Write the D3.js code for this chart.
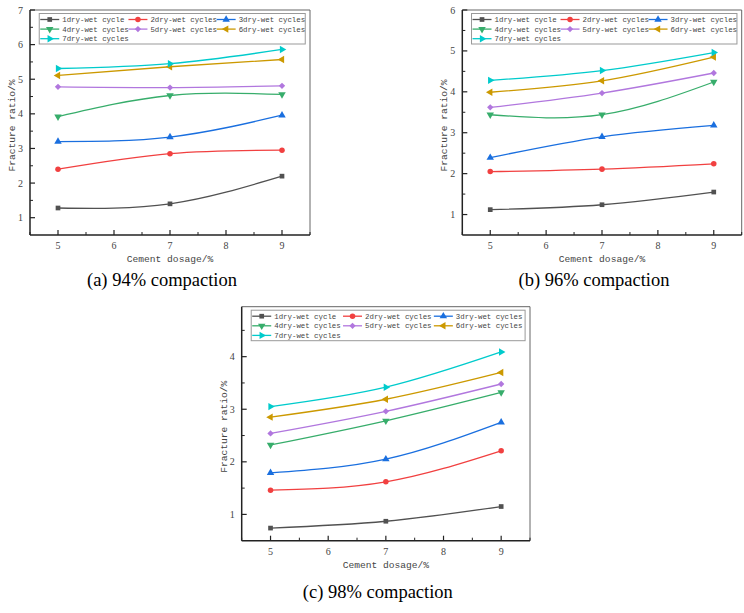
<!DOCTYPE html>
<html lang="en">
<head>
    <meta charset="UTF-8">
    <title>Fracture ratio vs cement dosage</title>
    <script src="https://d3js.org/d3.v7.min.js"></script>
    <style>
        body {
            margin: 0;
            padding: 0;
            background-color: #fff;
        }
        svg text {
            fill: #444;
        }
        .tick-label {
            font-family: "Liberation Serif", serif;
            font-size: 10px;
        }
        .axis-title {
            font-family: "Liberation Mono", monospace;
            font-size: 9.6px;
        }
        .legend-text {
            font-family: "Liberation Mono", monospace;
            font-size: 7.4px;
        }
        .caption {
            font-family: "Liberation Serif", "Times New Roman", serif;
            font-size: 18.5px;
            fill: #000 !important;
        }
    </style>
</head>
<body>
    <div id="chart"></div>
    <script>
        // dosage values on the x axis
        const dosages = [5, 7, 9];
        const seriesNames = ["1dry-wet cycle", "2dry-wet cycles", "3dry-wet cycles",
            "4dry-wet cycles", "5dry-wet cycles", "6dry-wet cycles", "7dry-wet cycles"];
        const seriesColors = ["#515151", "#F14040", "#1A6FDF", "#37AD6B", "#B177DE", "#CC9900", "#00CBCC"];

        // fracture ratio (%) per series
        const compaction94 = [
            [1.28, 1.40, 2.20],
            [2.40, 2.85, 2.95],
            [3.20, 3.33, 3.96],
            [3.92, 4.53, 4.56],
            [4.78, 4.76, 4.81],
            [5.11, 5.36, 5.57],
            [5.31, 5.45, 5.86]
        ];
        const compaction96 = [
            [1.12, 1.24, 1.55],
            [2.05, 2.11, 2.24],
            [2.39, 2.90, 3.18],
            [3.44, 3.44, 4.24],
            [3.62, 3.97, 4.46],
            [3.99, 4.27, 4.85],
            [4.28, 4.52, 4.96]
        ];
        const compaction98 = [
            [0.74, 0.87, 1.15],
            [1.46, 1.62, 2.21],
            [1.79, 2.05, 2.75],
            [2.32, 2.78, 3.32],
            [2.54, 2.96, 3.48],
            [2.85, 3.19, 3.70],
            [3.05, 3.42, 4.09]
        ];

        const xMajor = [5, 6, 7, 8, 9];
        const xMinor = [4.5, 5.5, 6.5, 7.5, 8.5, 9.5];

        // marker shape + rotation for each series (Origin defaults)
        const markers = [
            { type: d3.symbolSquare, rot: 0, size: 22 },
            { type: d3.symbolCircle, rot: 0, size: 24 },
            { type: d3.symbolTriangle, rot: 0, size: 24 },
            { type: d3.symbolTriangle, rot: 180, size: 24 },
            { type: d3.symbolSquare, rot: 45, size: 20 },
            { type: d3.symbolTriangle, rot: -90, size: 24 },
            { type: d3.symbolTriangle, rot: 90, size: 24 }
        ];

        const svg = d3.select("#chart")
            .append("svg")
            .attr("width", 744)
            .attr("height", 613);

        function drawPanel(opts) {
            const { left, top, right, bottom, yMax, yTicks, data, caption, capY } = opts;
            const w = right - left;
            const g = svg.append("g");

            const x = d3.scaleLinear().domain([4.5, 9.5]).range([left, right]);
            const y = d3.scaleLinear().domain([0.5, yMax]).range([bottom, top]);

            // frame
            g.append("line").attr("x1", left).attr("x2", right).attr("y1", top).attr("y2", top)
                .attr("stroke", "#666").attr("stroke-width", 1);
            g.append("line").attr("x1", right).attr("x2", right).attr("y1", top).attr("y2", bottom)
                .attr("stroke", "#666").attr("stroke-width", 1);

            // inward ticks
            const yMinor = d3.range(1.5, yMax, 1);
            g.selectAll(".xmaj").data(xMajor).enter().append("line")
                .attr("x1", d => x(d)).attr("x2", d => x(d))
                .attr("y1", bottom).attr("y2", bottom - 5)
                .attr("stroke", "#222").attr("stroke-width", 1.2);
            g.selectAll(".xmin").data(xMinor).enter().append("line")
                .attr("x1", d => x(d)).attr("x2", d => x(d))
                .attr("y1", bottom).attr("y2", bottom - 3)
                .attr("stroke", "#222").attr("stroke-width", 1);
            g.selectAll(".ymaj").data(yTicks).enter().append("line")
                .attr("x1", left).attr("x2", left + 5)
                .attr("y1", d => y(d)).attr("y2", d => y(d))
                .attr("stroke", "#222").attr("stroke-width", 1.2);
            g.selectAll(".ymin").data(yMinor).enter().append("line")
                .attr("x1", left).attr("x2", left + 3)
                .attr("y1", d => y(d)).attr("y2", d => y(d))
                .attr("stroke", "#222").attr("stroke-width", 1);

            g.append("line").attr("x1", left).attr("x2", right).attr("y1", bottom).attr("y2", bottom)
                .attr("stroke", "#222").attr("stroke-width", 1.5);
            g.append("line").attr("x1", left).attr("x2", left).attr("y1", top).attr("y2", bottom)
                .attr("stroke", "#222").attr("stroke-width", 1.5);

            // tick labels
            g.selectAll(".xl").data(xMajor).enter().append("text")
                .attr("class", "tick-label")
                .attr("x", d => x(d)).attr("y", bottom + 14)
                .attr("text-anchor", "middle").text(d => d);
            g.selectAll(".yl").data(yTicks).enter().append("text")
                .attr("class", "tick-label")
                .attr("x", left - 7).attr("y", d => y(d) + 3.5)
                .attr("text-anchor", "end").text(d => d);

            // axis titles
            g.append("text").attr("class", "axis-title")
                .attr("x", (left + right) / 2).attr("y", bottom + 27)
                .attr("text-anchor", "middle").text("Cement dosage/%");
            g.append("text").attr("class", "axis-title")
                .attr("transform", `translate(${left - 15},${(top + bottom) / 2 + 3}) rotate(-90)`)
                .attr("text-anchor", "middle").text("Fracture ratio/%");

            // series
            const line = d3.line()
                .x((d, i) => x(dosages[i]))
                .y(d => y(d))
                .curve(d3.curveNatural);

            data.forEach((vals, s) => {
                g.append("path")
                    .datum(vals)
                    .attr("fill", "none")
                    .attr("stroke", seriesColors[s])
                    .attr("stroke-width", 1.3)
                    .attr("d", line);
                const m = markers[s];
                g.selectAll(null).data(vals).enter().append("path")
                    .attr("d", d3.symbol().type(m.type).size(m.size))
                    .attr("transform", (d, i) => `translate(${x(dosages[i])},${y(d)}) rotate(${m.rot})`)
                    .attr("fill", seriesColors[s]);
            });

            // legend
            const bx = left + w * 0.033;
            const by = top + 3.5;
            const bw = w * 0.95;
            const colStep = w * 0.315;
            const lg = g.append("g");
            lg.append("rect")
                .attr("x", bx).attr("y", by).attr("width", bw).attr("height", 30.5)
                .attr("fill", "#fff").attr("stroke", "#999").attr("stroke-width", 1);
            seriesNames.forEach((name, s) => {
                const col = s % 3;
                const row = Math.floor(s / 3);
                const tx = bx + 23 + col * colStep;
                const ty = by + 6 + row * 9.6;
                lg.append("line")
                    .attr("x1", tx - 22).attr("x2", tx - 3)
                    .attr("y1", ty).attr("y2", ty)
                    .attr("stroke", seriesColors[s]).attr("stroke-width", 1.3);
                const m = markers[s];
                lg.append("path")
                    .attr("d", d3.symbol().type(m.type).size(m.size))
                    .attr("transform", `translate(${tx - 12.5},${ty}) rotate(${m.rot})`)
                    .attr("fill", seriesColors[s]);
                lg.append("text")
                    .attr("class", "legend-text")
                    .attr("x", tx).attr("y", ty + 2.6)
                    .text(name);
            });

            // caption
            g.append("text").attr("class", "caption")
                .attr("x", (left + right) / 2 - 8).attr("y", capY)
                .attr("text-anchor", "middle").text(caption);
        }

        drawPanel({
            left: 30, top: 10, right: 310, bottom: 235, yMax: 7,
            yTicks: [1, 2, 3, 4, 5, 6, 7], data: compaction94,
            caption: "(a) 94% compaction", capY: 286
        });
        drawPanel({
            left: 462.3, top: 10, right: 741.7, bottom: 235, yMax: 6,
            yTicks: [1, 2, 3, 4, 5, 6], data: compaction96,
            caption: "(b) 96% compaction", capY: 286
        });
        drawPanel({
            left: 241.7, top: 306.7, right: 530, bottom: 540.7, yMax: 4.95,
            yTicks: [1, 2, 3, 4], data: compaction98,
            caption: "(c) 98% compaction", capY: 598
        });
    </script>
</body>
</html>
